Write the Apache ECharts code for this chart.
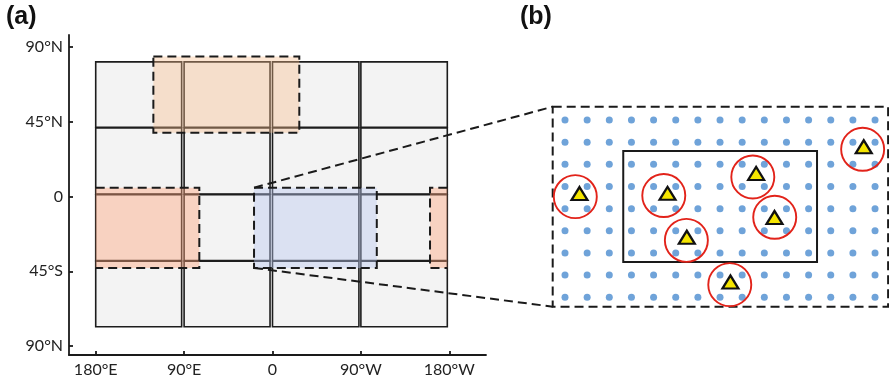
<!DOCTYPE html>
<html>
<head>
<meta charset="utf-8">
<script src="https://cdn.jsdelivr.net/npm/echarts@6/dist/echarts.min.js"></script>
<style>
  html, body { margin: 0; padding: 0; background: #fff; }
  #main { width: 889px; height: 382px; }
</style>
</head>
<body>
<div id="main"></div>
<script>
// ---- panel (a) ----
const lonTicks = [-180, -90, 0, 90, 180]
const lonLabels = ['180°E', '90°E', '0', '90°W', '180°W']
const latTicks = [90, 45, 0, -45, -90]
const latLabels = ['90°N', '45°N', '0', '45°S', '90°N']

// grey cells, [lon0, lon1] and [lat0, lat1]
const cellCols = [[-180, -92.5], [-90, -2.5], [0, 88], [90, 178]]
const cellRows = [[81, 41.6], [41.2, 1.5], [1.1, -38.6], [-39, -78.4]]

// shaded regions [lon0, lon1, lat0, lat1]
const peachBoxes = [[-121.3, 27.3, 84.2, 38.4]]
const salmonBoxes = [[-180, -74.5, 5.3, -43], [160.4, 178, 5.3, -43]]
const blueBoxes = [[-18.8, 106.2, 5.3, -43]]

// ---- panel (b) ----
const dotCols = [0, 1, 2, 3, 4, 5, 6, 7, 8, 9, 10, 11, 12, 13, 14]
const dotRows = [0, 1, 2, 3, 4, 5, 6, 7, 8]
const zoomBox = [-0.556, 14.59, -0.6, 8.425]
const innerBox = [2.63, 11.38, 1.4, 6.41]
const circles = [
  [0.465, 3.46], [4.46, 3.41], [8.48, 2.57], [9.47, 4.39],
  [5.48, 5.43], [7.44, 7.43], [13.44, 1.32]
]
const stations = [
  [0.655, 3.32], [4.63, 3.31], [8.63, 2.41], [9.46, 4.40],
  [5.50, 5.29], [7.47, 7.31], [13.49, 1.21]
]

const mapLeft = cellCols[0][0]
const mapRight = cellCols[cellCols.length - 1][1]

let cells = []
cellRows.forEach(r => {
  cellCols.forEach(c => { cells.push([c[0], c[1], r[0], r[1]]) })
})
let dots = []
dotRows.forEach(r => {
  dotCols.forEach(c => { dots.push([c, r]) })
})

function rectPx (api) {
  let p0 = api.coord([api.value(0), api.value(2)])
  let p1 = api.coord([api.value(1), api.value(3)])
  return { x0: p0[0], y0: p0[1], x1: p1[0], y1: p1[1] }
}

function cellItem (params, api) {
  let r = rectPx(api)
  return {
    type: 'rect',
    shape: { x: r.x0, y: r.y0, width: r.x1 - r.x0, height: r.y1 - r.y0 },
    style: { fill: '#f3f3f3', stroke: '#1c1c1c', lineWidth: 1.6 }
  }
}

// dashed outline, open on the side cut by the map edge
function boxRenderer (fill) {
  return function (params, api) {
    let r = rectPx(api)
    let pts
    if (api.value(0) <= mapLeft) {
      pts = [[r.x0, r.y0], [r.x1, r.y0], [r.x1, r.y1], [r.x0, r.y1]]
    } else if (api.value(1) >= mapRight) {
      pts = [[r.x1, r.y0], [r.x0, r.y0], [r.x0, r.y1], [r.x1, r.y1]]
    } else {
      pts = [[r.x0, r.y0], [r.x1, r.y0], [r.x1, r.y1], [r.x0, r.y1], [r.x0, r.y0]]
    }
    return {
      type: 'group',
      children: [
        {
          type: 'rect',
          shape: { x: r.x0, y: r.y0, width: r.x1 - r.x0, height: r.y1 - r.y0 },
          style: { fill: fill }
        },
        {
          type: 'polyline',
          shape: { points: pts },
          style: { fill: null, stroke: '#1a1a1a', lineWidth: 2, lineDash: [9, 5] }
        }
      ]
    }
  }
}

function outlineRenderer (dash) {
  return function (params, api) {
    let r = rectPx(api)
    return {
      type: 'rect',
      shape: { x: r.x0, y: r.y0, width: r.x1 - r.x0, height: r.y1 - r.y0 },
      style: { fill: null, stroke: '#1a1a1a', lineWidth: 2, lineDash: dash }
    }
  }
}

const labelFont = { fontFamily: 'Lato', fontSize: 16, color: '#222' }
const axisLineStyle = { color: '#1a1a1a', width: 1.8 }

let chart = echarts.init(document.getElementById('main'))
let option = {
  animation: false,
  backgroundColor: '#fff',
  title: [
    { text: '(a)', left: 6, top: 5, padding: 0, textStyle: { fontFamily: 'Liberation Sans', fontWeight: 'bold', fontSize: 25, color: '#111' } },
    { text: '(b)', left: 520, top: 5, padding: 0, textStyle: { fontFamily: 'Liberation Sans', fontWeight: 'bold', fontSize: 25, color: '#111' } }
  ],
  grid: [
    { left: 69, top: 35, width: 417, height: 320 },
    { left: 542.86, top: 97.84, width: 346.14, height: 221.6 }
  ],
  xAxis: [
    {
      type: 'value', gridIndex: 0, min: -207.2, max: 217.4,
      splitLine: { show: false },
      axisLine: { onZero: false, lineStyle: axisLineStyle },
      axisTick: { inside: true, length: 4, lineStyle: axisLineStyle, customValues: lonTicks },
      axisLabel: {
        customValues: lonTicks, margin: 7, ...labelFont,
        formatter: v => lonLabels[lonTicks.indexOf(v)]
      }
    },
    { type: 'value', gridIndex: 1, min: -1, max: 14.63, show: false }
  ],
  yAxis: [
    {
      type: 'value', gridIndex: 0, min: -95.4, max: 97.2,
      splitLine: { show: false },
      axisLine: { onZero: false, lineStyle: axisLineStyle },
      axisTick: { inside: true, length: 4, lineStyle: axisLineStyle, customValues: latTicks },
      axisLabel: {
        customValues: latTicks, margin: 6, ...labelFont,
        formatter: v => latLabels[latTicks.indexOf(v)]
      }
    },
    { type: 'value', gridIndex: 1, min: -1, max: 9, inverse: true, show: false }
  ],
  series: [
    { type: 'custom', xAxisIndex: 0, yAxisIndex: 0, clip: false, silent: true, renderItem: cellItem, data: cells },
    { type: 'custom', xAxisIndex: 0, yAxisIndex: 0, clip: false, silent: true, renderItem: boxRenderer('rgba(250,190,140,0.38)'), data: peachBoxes },
    { type: 'custom', xAxisIndex: 0, yAxisIndex: 0, clip: false, silent: true, renderItem: boxRenderer('rgba(255,165,125,0.42)'), data: salmonBoxes },
    { type: 'custom', xAxisIndex: 0, yAxisIndex: 0, clip: false, silent: true, renderItem: boxRenderer('rgba(185,200,240,0.42)'), data: blueBoxes },

    { type: 'scatter', xAxisIndex: 1, yAxisIndex: 1, silent: true, symbolSize: 7, itemStyle: { color: '#6fa3d9', opacity: 1 }, data: dots },
    { type: 'custom', xAxisIndex: 1, yAxisIndex: 1, clip: false, silent: true, renderItem: outlineRenderer([9, 5]), data: [zoomBox] },
    { type: 'custom', xAxisIndex: 1, yAxisIndex: 1, clip: false, silent: true, renderItem: outlineRenderer(null), data: [innerBox] },
    {
      type: 'scatter', xAxisIndex: 1, yAxisIndex: 1, silent: true, symbol: 'circle', symbolSize: 43,
      itemStyle: { color: 'rgba(0,0,0,0)', borderColor: '#e2231a', borderWidth: 1.9, opacity: 1 },
      data: circles
    },
    {
      type: 'scatter', xAxisIndex: 1, yAxisIndex: 1, silent: true, symbol: 'triangle', symbolSize: [16, 13],
      itemStyle: { color: '#f5e500', borderColor: '#111', borderWidth: 2.2, opacity: 1 },
      data: stations
    }
  ]
}
chart.setOption(option)

// zoom lines from the blue box corners to the corners of panel (b)
let b = blueBoxes[0]
let a0 = chart.convertToPixel({ gridIndex: 0 }, [b[0], b[2]])
let a1 = chart.convertToPixel({ gridIndex: 0 }, [b[0], b[3]])
let z0 = chart.convertToPixel({ gridIndex: 1 }, [zoomBox[0], zoomBox[2]])
let z1 = chart.convertToPixel({ gridIndex: 1 }, [zoomBox[0], zoomBox[3]])
let dashStyle = { stroke: '#1a1a1a', lineWidth: 2, lineDash: [9, 5] }
chart.setOption({
  graphic: [
    { type: 'line', z: 10, silent: true, shape: { x1: a0[0], y1: a0[1], x2: z0[0], y2: z0[1] }, style: dashStyle },
    { type: 'line', z: 10, silent: true, shape: { x1: a1[0], y1: a1[1], x2: z1[0], y2: z1[1] }, style: dashStyle }
  ]
})
</script>
</body>
</html>
